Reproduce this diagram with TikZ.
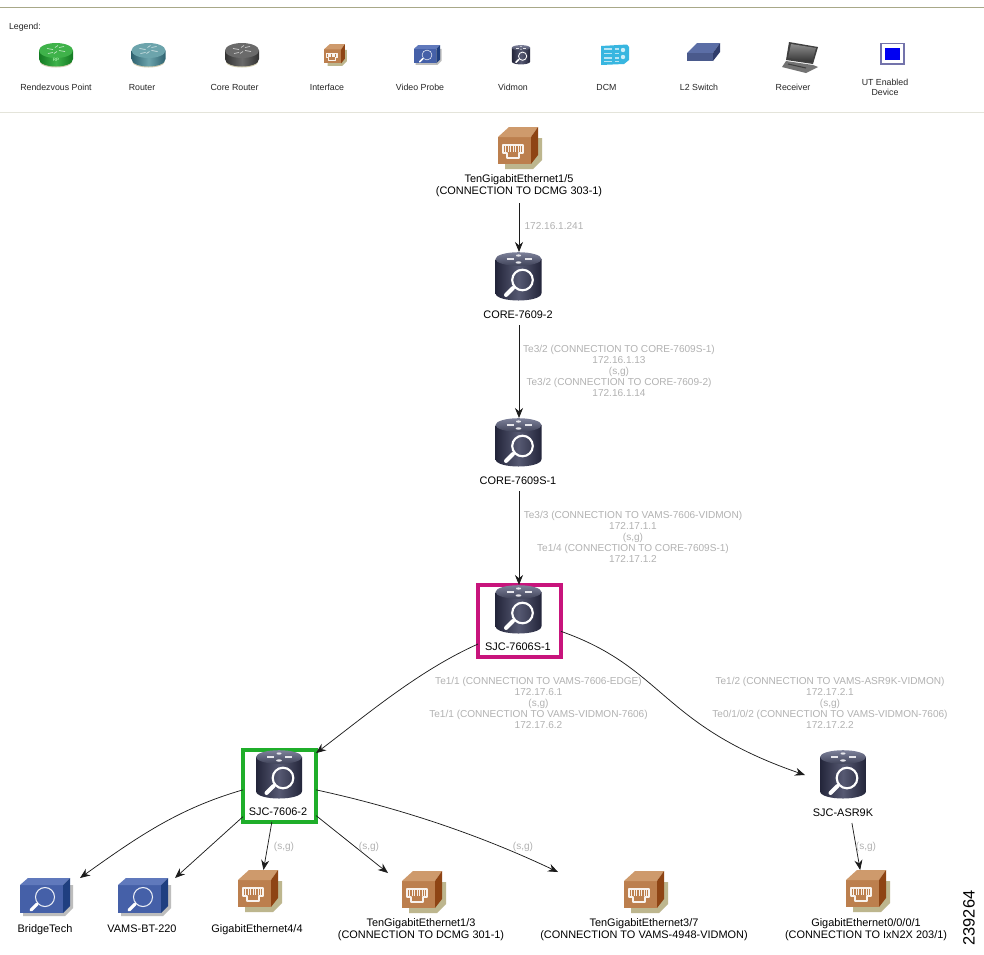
\documentclass[tikz,border=0pt]{standalone}
\usepackage{fontspec}
\setmainfont{Liberation Sans}
\usetikzlibrary{arrows.meta,calc}
\definecolor{lineTan}{HTML}{A8A888}
\definecolor{lineLight}{HTML}{E4E4DA}
\definecolor{greyText}{HTML}{B2B2B2}
\definecolor{edgeCol}{HTML}{1C1C1C}
\definecolor{magBox}{HTML}{C8147C}
\definecolor{grnBox}{HTML}{1FAE2A}
\definecolor{vmTop}{HTML}{5C6180}
\definecolor{vmDark}{HTML}{23253A}
\definecolor{vmMid}{HTML}{565972}
\definecolor{ifFront}{HTML}{BC7F4E}
\definecolor{ifTop}{HTML}{CE9A6C}
\definecolor{ifSide}{HTML}{8E4414}
\definecolor{ifShadow}{HTML}{BDB68E}
\definecolor{prFront}{HTML}{4560A8}
\definecolor{prTop}{HTML}{6079BC}
\definecolor{prSide}{HTML}{1F3F80}
\definecolor{prShadow}{HTML}{BDBDBD}
\definecolor{greentop}{HTML}{3FB24A}
\definecolor{greenside}{HTML}{137A22}
\definecolor{tealtop}{HTML}{6CA4AC}
\definecolor{tealside}{HTML}{2F6270}
\definecolor{greytop}{HTML}{6A6A6A}
\definecolor{greyside}{HTML}{333333}
\definecolor{dcmCyan}{HTML}{38B6E0}
\definecolor{swTop}{HTML}{5B6EA6}
\definecolor{swFront}{HTML}{4A5A8C}
\definecolor{swSide}{HTML}{2F3C6B}
\tikzset{
  x=0.75pt,y=-0.75pt,
  every node/.style={inner sep=0pt,outer sep=0pt},
  devlabel/.style={font=\fontsize{8.2}{9}\selectfont,align=center,text=black,text height=7pt,text depth=1pt,minimum height=22*0.75pt},
  ifacelabel/.style={font=\fontsize{8.2}{9}\selectfont,align=center,text=black,minimum height=34*0.75pt},
  greylabel/.style={font=\fontsize{7.55}{8.25}\selectfont,align=center,text=greyText},
  legendlabel/.style={font=\fontsize{6.6}{7.5}\selectfont,align=center,text=black!85},
  legendsingle/.style={legendlabel,text height=5.5pt,text depth=0.8pt},
  icongeom/.style 2 args={minimum width=#1*0.75pt,minimum height=#2*0.75pt},
  frameMag/.style={draw=magBox,line width=2.4pt,minimum width=83*0.75pt,minimum height=72*0.75pt},
  frameGrn/.style={draw=grnBox,line width=2.4pt,minimum width=73*0.75pt,minimum height=72*0.75pt},
  conn/.style={draw=edgeCol,line width=0.55pt,-{Stealth[length=7.5pt,width=6pt]}},
  vidmonicon/.pic={
    \path[left color=vmDark,right color=vmDark,middle color=vmMid]
      (-23,-18) -- (-23,16) .. controls (-23,26) and (23,26) .. (23,16) -- (23,-18) -- cycle;
    \path[top color=vmTop!80!white,bottom color=vmTop!70!black] (0,-18) ellipse (23 and 6.8);
    \foreach \dx/\dy in {-12/-18,6/-18}{
      \draw[white!85!vmTop,line width=#1*0.9pt] (\dx,\dy) -- ++(7,0);}
    \fill[white!85!vmTop] (0,-21.5) ellipse (2.5 and 1.1);
    \fill[white!85!vmTop] (0,-14.5) ellipse (2.8 and 1.2);
    \draw[white,line width=#1*1.6pt] (4,3) circle (10.3);
    \draw[white,line width=#1*3pt,line cap=round] (-5.5,11) -- (-12.5,18);
  },
  ifaceicon/.pic={
    \fill[ifShadow] (14,-10) -- (23,-10) -- (23,12) -- (14,21) -- (-14,21) -- (-14,14) -- cycle;
    \fill[ifFront] (-21,-11) -- (12,-11) -- (12,16) -- (-21,16) -- cycle;
    \fill[ifTop] (-21,-11) -- (-10,-21) -- (19,-21) -- (12,-11) -- cycle;
    \fill[ifSide] (12,-11) -- (19,-21) -- (19,7) -- (12,16) -- cycle;
    \draw[white!90!ifFront,line width=#1*1.1pt,line join=round]
      (-16,-3) -- (4,-3) -- (4,5) -- (0,5) -- (0,10) -- (-12,10) -- (-12,5) -- (-16,5) -- cycle;
    \foreach \tx in {-13.5,-11,-8.5,-6,-3.5,-1,1.5}{
      \draw[white!90!ifFront,line width=#1*0.7pt] (\tx,-2) -- (\tx,4);}
  },
  probeicon/.pic={
    \fill[prShadow] (22,-12) -- (28,-12) -- (28,11) -- (20,19) -- (-22,19) -- (-22,16) -- cycle;
    \fill[prFront] (-25,-12) -- (18,-12) -- (18,16) -- (-25,16) -- cycle;
    \fill[prTop] (-25,-12) -- (-17,-19) -- (25,-19) -- (18,-12) -- cycle;
    \fill[prSide] (18,-12) -- (25,-19) -- (25,9) -- (18,16) -- cycle;
    \draw[white!90!prFront,line width=#1*0.8pt] (0,0) circle (9.5);
    \draw[white,line width=#1*2.4pt,line cap=round] (-8,7) -- (-14,13);
  },
  puckicon/.pic={
    \fill[ifShadow!70] (0,7) ellipse (16 and 5.5);
    \path[left color=#1side,right color=#1side,middle color=#1top]
      (-17,-4.5) -- (-17,4) .. controls (-17,14) and (17,14) .. (17,4) -- (17,-4.5) -- cycle;
    \fill[#1top] (0,-4.5) ellipse (17 and 7.5);
    \draw[white!70!#1top,line width=0.5pt]
      (-9,-6.5) -- (-3,-5.5) (3,-4.5) -- (9,-3.5) (2,-9.5) -- (-1,-7.5) (-2,-1.5) -- (1,-3.5) (3,-7.5) -- (8,-8.5) (-8,-1.5) -- (-3,-2.5);
  },
}
\begin{document}
\begin{tikzpicture}
\useasboundingbox (0,0) rectangle (984,954);
\fill[white] (0,0) rectangle (984,954);

% band of the legend
\coordinate (ruleTopL) at (0,7.5);
\coordinate (ruleTopR) at (984,7.5);
\coordinate (ruleBotL) at (0,112.5);
\coordinate (ruleBotR) at (984,112.5);
\draw[lineTan,line width=0.9pt] (ruleTopL) -- (ruleTopR);
\draw[lineLight,line width=0.75pt] (ruleBotL) -- (ruleBotR);
\node[legendlabel,anchor=west] (lgTitle) at (9,27) {Legend:};

% legend icons
\pic at (56,55) {puckicon=green};
\node[font=\fontsize{3.5}{4}\selectfont,text=white!75!green] (lgRPtag) at (56,60) {RP};
\pic at (148.5,55) {puckicon=teal};
\pic at (242,55) {puckicon=grey};
\pic[scale=.52] at (335,55) {ifaceicon=.52};
\pic[scale=.52] at (427,55) {probeicon=.52};
\pic[scale=.4] at (521,55) {vidmonicon=.4};
% DCM
\fill[dcmCyan] (601,46) -- (627,44.5) -- (629,47) -- (629,60) -- (624,64) -- (601,65) -- cycle;
\foreach \ly in {49,53.5,58,61.5}{
  \draw[white!65!dcmCyan,line width=1pt] (604,\ly) -- (612,\ly) (614.5,\ly) -- (619,\ly);}
\fill[white!75!dcmCyan] (623,50) circle (2.2) (623,57) circle (2.2);
% L2 switch
\fill[swTop] (687,53) -- (697,43) -- (720,43) -- (713,53) -- cycle;
\fill[swFront] (687,53) -- (713,53) -- (713,61) -- (687,61) -- cycle;
\fill[swSide] (713,53) -- (720,43) -- (720,52) -- (713,61) -- cycle;
% receiver
\fill[black!75] (789,42) -- (818,47) -- (813,64) -- (786,60) -- cycle;
\path[top color=black!45,bottom color=black!80] (791,44) -- (816,48) -- (812,62) -- (788,58) -- cycle;
\fill[black!55] (786,61) -- (813,65) -- (818,67) -- (806,73) -- (782,67) -- cycle;
\draw[black!75,line width=0.8pt] (788,64) -- (806,68);
% UT enabled
\draw[blue!40!black!55!white,fill=white,line width=0.9pt] (881,43.5) rectangle (904,64);
\fill[blue!95!black] (885,48) rectangle (900,60);

\node[legendsingle] (lgRP) at (56,87) {Rendezvous Point};
\node[legendsingle] (lgRouter) at (142,87) {Router};
\node[legendsingle] (lgCore) at (234.5,87) {Core Router};
\node[legendsingle] (lgIface) at (327,87) {Interface};
\node[legendsingle] (lgProbe) at (420,87) {Video Probe};
\node[legendsingle] (lgVid) at (513,87) {Vidmon};
\node[legendsingle] (lgDCM) at (606.5,87) {DCM};
\node[legendsingle] (lgL2) at (699,87) {L2 Switch};
\node[legendsingle] (lgRecv) at (793,87) {Receiver};
\node[legendlabel] (lgUT) at (885,87) {UT Enabled\\Device};

% nodes: icons
\node[icongeom={46}{42}] (tenTop) at (519,148) {};
\pic at (519,148) {ifaceicon=1};
\node[ifacelabel] (tenTopL) at (519,186) {TenGigabitEthernet1/5\\(CONNECTION TO DCMG 303-1)};

\node[icongeom={48}{50}] (core2) at (519,277) {};
\pic at (518.5,277) {vidmonicon=1};
\node[devlabel] (core2L) at (518,314) {CORE-7609-2};

\node[icongeom={48}{50}] (core1) at (519,443) {};
\pic at (518.5,443) {vidmonicon=1};
\node[devlabel] (core1L) at (518,480) {CORE-7609S-1};

\node[frameMag] (sjcS) at (519.5,621) {};
\pic at (518.5,610) {vidmonicon=1};
\node[devlabel] (sjcSL) at (518,646) {SJC-7606S-1};

\node[frameGrn] (sjc2) at (279.5,786) {};
\pic at (279,775) {vidmonicon=1};
\node[devlabel] (sjc2L) at (278,811) {SJC-7606-2};

\node[icongeom={76}{50}] (asr) at (843,775) {};
\pic at (843,775) {vidmonicon=1};
\node[devlabel] (asrL) at (843,812) {SJC-ASR9K};

\node[icongeom={70}{38}] (bridge) at (45,897) {};
\pic at (45,897) {probeicon=1};
\node[devlabel] (bridgeL) at (45,928) {BridgeTech};

\node[icongeom={64}{38}] (vams) at (143,897) {};
\pic at (143,897) {probeicon=1};
\node[devlabel] (vamsL) at (142,928) {VAMS-BT-220};

\node[icongeom={46}{42}] (gig44) at (259,891) {};
\pic at (259,891) {ifaceicon=1};
\node[devlabel] (gig44L) at (257,928) {GigabitEthernet4/4};

\node[icongeom={70}{38}] (ten13) at (423,892) {};
\pic at (423,892) {ifaceicon=1};
\node[ifacelabel] (ten13L) at (421,929.5) {TenGigabitEthernet1/3\\(CONNECTION TO DCMG 301-1)};

\node[icongeom={174}{40}] (ten37) at (645,892) {};
\pic at (645,892) {ifaceicon=1};
\node[ifacelabel] (ten37L) at (644,929.5) {TenGigabitEthernet3/7\\(CONNECTION TO VAMS-4948-VIDMON)};

\node[icongeom={46}{42}] (gig00) at (867,891) {};
\pic at (867,891) {ifaceicon=1};
\node[ifacelabel] (gig00L) at (866,929.5) {GigabitEthernet0/0/0/1\\(CONNECTION TO IxN2X 203/1)};

% connectors
\draw[conn] (tenTop|-tenTopL.south) -- (core2.north);
\draw[conn] (core2|-core2L.south) -- (core1.north);
\draw[conn] (core1|-core1L.south) -- (core1|-sjcS.north);
\draw[conn] (sjcS.209) .. controls (420,670) and (370,712) .. (sjc2.42);
\draw[conn] (sjcS.346) .. controls (665,668) and (660,725) .. (asr.west);
\draw[conn] (sjc2.186) .. controls (180,808) and (140,835) .. (bridge.north east);
\draw[conn] (sjc2.220) -- (vams.north east);
\draw[conn] (sjc2.258) -- (gig44.78);
\draw[conn] (sjc2.321) -- (ten13.north west);
\draw[conn] (sjc2.354) .. controls (400,808) and (480,835) .. (ten37.north west);
\draw[conn] (asrL.309) -- (gig00.108);

% connector labels
\node[greylabel] (lb1) at (554,226.5) {172.16.1.241};
\node[greylabel] (lb2) at (619,371) {Te3/2 (CONNECTION TO CORE-7609S-1)\\172.16.1.13\\(s,g)\\Te3/2 (CONNECTION TO CORE-7609-2)\\172.16.1.14};
\node[greylabel] (lb3) at (633,537) {Te3/3 (CONNECTION TO VAMS-7606-VIDMON)\\172.17.1.1\\(s,g)\\Te1/4 (CONNECTION TO CORE-7609S-1)\\172.17.1.2};
\node[greylabel] (lb4) at (538.5,703) {Te1/1 (CONNECTION TO VAMS-7606-EDGE)\\172.17.6.1\\(s,g)\\Te1/1 (CONNECTION TO VAMS-VIDMON-7606)\\172.17.6.2};
\node[greylabel] (lb5) at (830,703) {Te1/2 (CONNECTION TO VAMS-ASR9K-VIDMON)\\172.17.2.1\\(s,g)\\Te0/1/0/2 (CONNECTION TO VAMS-VIDMON-7606)\\172.17.2.2};
\node[greylabel] (sg1) at (284,846.5) {(s,g)};
\node[greylabel] (sg2) at (369,846.5) {(s,g)};
\node[greylabel] (sg3) at (523,846.5) {(s,g)};
\node[greylabel] (sg4) at (866,846.5) {(s,g)};

\node[rotate=90,font=\fontsize{12.3}{13}\selectfont] (figId) at (969,918) {239264};
\end{tikzpicture}
\end{document}
